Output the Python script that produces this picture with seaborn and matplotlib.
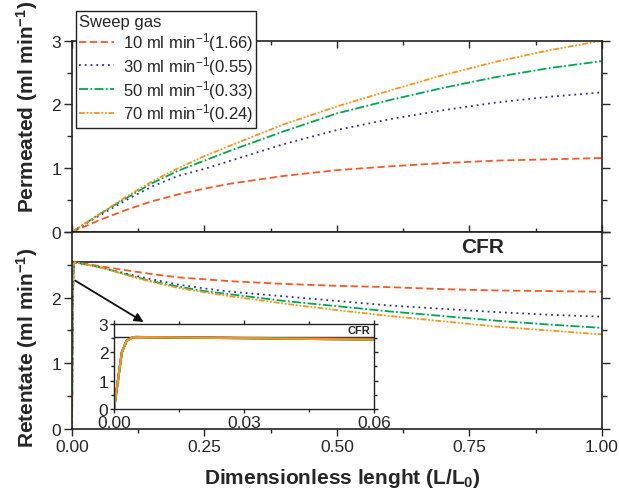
import numpy as np
import pandas as pd
import matplotlib
matplotlib.use("Agg")
import matplotlib.pyplot as plt
from matplotlib.ticker import MultipleLocator
import seaborn as sns

# ---------------- data ----------------
series = ["10 ml min$^{-1}$(1.66)", "30 ml min$^{-1}$(0.55)",
          "50 ml min$^{-1}$(0.33)", "70 ml min$^{-1}$(0.24)"]
colors = ["#F15A29", "#2E3192", "#00A651", "#F7941D"]

x_perm = [0, 0.05, 0.1, 0.15, 0.2, 0.25, 0.3, 0.4, 0.5, 0.6, 0.7, 0.8, 0.9, 1.0]
perm_10 = [0, 0.18, 0.34, 0.48, 0.59, 0.68, 0.76, 0.88, 0.97, 1.03, 1.08, 1.12, 1.14, 1.16]
perm_30 = [0, 0.25, 0.49, 0.71, 0.88, 0.99, 1.12, 1.38, 1.60, 1.77, 1.91, 2.03, 2.12, 2.19]
perm_50 = [0, 0.27, 0.52, 0.76, 0.96, 1.12, 1.28, 1.58, 1.86, 2.07, 2.26, 2.43, 2.57, 2.68]
perm_70 = [0, 0.27, 0.54, 0.79, 1.00, 1.19, 1.36, 1.69, 1.97, 2.22, 2.46, 2.67, 2.85, 3.00]

x_ret = [0, 0.0009, 0.0018, 0.0029, 0.0041, 0.005, 0.03, 0.06, 0.1, 0.15, 0.2, 0.25,
         0.3, 0.4, 0.5, 0.6, 0.7, 0.8, 0.9, 1.0]
ret_10 = [0, 1.0, 2.0, 2.41, 2.51, 2.54, 2.51, 2.47, 2.42, 2.36, 2.31, 2.28,
          2.25, 2.21, 2.18, 2.16, 2.13, 2.11, 2.10, 2.09]
ret_30 = [0, 1.0, 2.0, 2.41, 2.51, 2.54, 2.50, 2.45, 2.37, 2.28, 2.20, 2.14,
          2.09, 2.02, 1.95, 1.88, 1.83, 1.78, 1.74, 1.71]
ret_50 = [0, 1.0, 2.0, 2.41, 2.51, 2.54, 2.50, 2.45, 2.36, 2.25, 2.17, 2.10,
          2.05, 1.95, 1.87, 1.79, 1.72, 1.65, 1.59, 1.54]
ret_70 = [0, 1.0, 2.0, 2.41, 2.51, 2.54, 2.50, 2.45, 2.35, 2.24, 2.15, 2.08,
          2.02, 1.91, 1.81, 1.72, 1.64, 1.56, 1.50, 1.44]

cfr_level = 2.54
x_ticks = [0.0, 0.25, 0.5, 0.75, 1.0]
x_ticklabels = ["0.00", "0.25", "0.50", "0.75", "1.00"]
inset_ticks = [0.0, 0.03, 0.06]
inset_ticklabels = ["0.00", "0.03", "0.06"]

# ---------------- style ----------------
sns.set_style("ticks")
plt.rcParams["font.family"] = ["Liberation Sans", "DejaVu Sans"]
plt.rcParams["mathtext.fontset"] = "custom"
plt.rcParams["mathtext.rm"] = "Liberation Sans"
plt.rcParams["mathtext.it"] = "Liberation Sans:italic"
plt.rcParams["mathtext.bf"] = "Liberation Sans:bold"
plt.rcParams["axes.edgecolor"] = "#222222"
plt.rcParams["axes.linewidth"] = 1.2

TICK_FS = 12.5
LABEL_FS = 15

perm_df = pd.concat([
    pd.DataFrame({"x": x_perm, "y": v, "gas": s})
    for v, s in zip([perm_10, perm_30, perm_50, perm_70], series)])
ret_df = pd.concat([
    pd.DataFrame({"x": x_ret, "y": v, "gas": s})
    for v, s in zip([ret_10, ret_30, ret_50, ret_70], series)])

palette = dict(zip(series, colors))
dashes = dict(zip(series, [(4, 2), (1, 2.2), (5, 1.3, 1, 1.3), (3.2, 1, 1, 1, 1, 1)]))

fig = plt.figure(figsize=(6.19, 4.89), dpi=100)
ax1 = fig.add_axes([0.1163, 0.5235, 0.8562, 0.3912])
ax2 = fig.add_axes([0.1163, 0.1207, 0.8562, 0.4028])

sns.lineplot(data=perm_df, x="x", y="y", hue="gas", style="gas", palette=palette,
             dashes=dashes, ax=ax1, legend=False, lw=1.3, estimator=None, sort=False)
sns.lineplot(data=ret_df, x="x", y="y", hue="gas", style="gas", palette=palette,
             dashes=dashes, ax=ax2, legend=False, lw=1.3, estimator=None, sort=False)

for ax in (ax1, ax2):
    ax.set_xlim(0, 1.0)
    ax.set_ylim(0, 3)
    ax.xaxis.set_major_locator(MultipleLocator(0.25))
    ax.xaxis.set_minor_locator(MultipleLocator(0.125))
    ax.yaxis.set_major_locator(MultipleLocator(1))
    ax.yaxis.set_minor_locator(MultipleLocator(0.5))
    ax.set_xlabel("")
    for sp in ax.spines.values():
        sp.set_visible(True)

# top panel ticks
ax1.tick_params(axis="x", which="both", direction="in", top=True, bottom=True,
                labelbottom=False)
ax1.tick_params(axis="x", which="major", length=5, width=1)
ax1.tick_params(axis="x", which="minor", length=3, width=1)
ax1.tick_params(axis="y", which="both", direction="out", left=True, right=True,
                labelsize=TICK_FS, pad=2)
ax1.tick_params(axis="y", which="major", length=6, width=1)
ax1.tick_params(axis="y", which="minor", length=3.5, width=1)
ax1.set_yticks([0, 1, 2, 3])
ax1.set_yticklabels(["0", "1", "2", "3"])
ax1.set_ylabel("Permeated (ml min$^{\\mathbf{-1}}$)", fontsize=LABEL_FS, fontweight="bold")
ax1.yaxis.set_label_coords(-0.06, 0.66)

# bottom panel ticks
ax2.set_xticks(x_ticks)
ax2.set_xticklabels(x_ticklabels)
ax2.tick_params(axis="x", which="both", direction="out", top=False,
                labelsize=TICK_FS, pad=2)
ax2.tick_params(axis="x", which="major", length=5, width=1)
ax2.tick_params(axis="x", which="minor", length=3, width=1)
ax2.tick_params(axis="y", which="both", direction="out", left=True, right=True,
                labelsize=TICK_FS, pad=2)
ax2.tick_params(axis="y", which="major", length=6, width=1)
ax2.tick_params(axis="y", which="minor", length=3.5, width=1)
ax2.set_yticks([0, 1, 2, 3])
ax2.set_yticklabels(["0", "1", "2", ""])
ax2.set_ylabel("Retentate (ml min$^{\\mathbf{-1}}$)", fontsize=LABEL_FS, fontweight="bold")
ax2.yaxis.set_label_coords(-0.06, 0.42)
ax2.set_xlabel("Dimensionless lenght (L/L$_\\mathbf{0}$)", fontsize=LABEL_FS,
               fontweight="bold")
ax2.xaxis.set_label_coords(0.51, -0.19)

ax2.axhline(cfr_level, color="#222222", lw=1.2, zorder=1)
ax2.text(0.775, 2.78, "CFR", ha="center", va="center", fontsize=15, fontweight="bold")

ax2.annotate("", xy=(0.135, 1.63), xytext=(0.006, 2.26),
             arrowprops=dict(arrowstyle="-|>", color="#111111", lw=1.3,
                             mutation_scale=13, shrinkA=0, shrinkB=0))

# legend
handles = ax1.get_lines()[:4]
leg = ax1.legend(handles, series, title="Sweep gas", loc="upper left",
                 bbox_to_anchor=(0.1228, 0.9755), bbox_transform=fig.transFigure,
                 fontsize=12, title_fontsize=12, frameon=True, fancybox=False,
                 framealpha=1, edgecolor="#222222", handlelength=2.1,
                 handletextpad=0.5, labelspacing=0.05, borderpad=0.2,
                 borderaxespad=0, alignment="left")
leg.get_frame().set_linewidth(1.0)

# inset
axin = fig.add_axes([0.1842, 0.1616, 0.4200, 0.1738])
for v, c in zip([ret_10, ret_30, ret_50, ret_70], colors):
    sns.lineplot(x=x_ret, y=v, color=c, lw=1.6, ax=axin, estimator=None, sort=False)
axin.set_xlim(0, 0.06)
axin.set_ylim(0, 3)
axin.set_xticks(inset_ticks)
axin.set_xticklabels(inset_ticklabels)
axin.xaxis.set_minor_locator(MultipleLocator(0.015))
axin.yaxis.set_major_locator(MultipleLocator(1))
axin.yaxis.set_minor_locator(MultipleLocator(0.5))
axin.tick_params(axis="both", which="both", labelsize=TICK_FS, pad=1)
axin.tick_params(axis="x", which="both", direction="out", top=True)
axin.tick_params(axis="y", which="both", direction="out", right=True)
axin.tick_params(which="major", length=3, width=1)
axin.tick_params(which="minor", length=2, width=1)
for sp in axin.spines.values():
    sp.set_visible(True)
    sp.set_linewidth(1.0)
axin.axhline(2.53, color="#222222", lw=1.0, zorder=1)
axin.text(0.0592, 2.78, "CFR", ha="right", va="center", fontsize=8, fontweight="bold")
axin.set_xlabel("")
axin.set_ylabel("")

fig.savefig("out.png", dpi=100)
